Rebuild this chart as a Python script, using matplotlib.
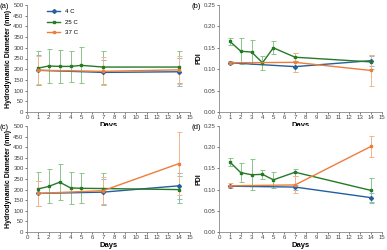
"""Hydrodynamic diameter and PDI over storage time, four-panel recreation."""

import matplotlib.pyplot as plt

days_full = [1, 2, 3, 4, 5, 7, 14]
days_short = [1, 7, 14]

# (a) diameter, formulation 1
a_4c = [195, 185, 188]
a_4c_err = [70, 60, 65]
a_25c = [205, 215, 213, 213, 218, 210, 210]
a_25c_err = [80, 80, 78, 73, 84, 77, 73]
a_37c = [195, 190, 197]
a_37c_err = [66, 65, 64]

# (b) PDI, formulation 1
b_4c = [0.115, 0.106, 0.120]
b_4c_err = [0.003, 0.013, 0.012]
b_25c = [0.165, 0.142, 0.140, 0.115, 0.150, 0.128, 0.117]
b_25c_err = [0.009, 0.030, 0.028, 0.017, 0.015, 0.010, 0.017]
b_37c = [0.115, 0.116, 0.097]
b_37c_err = [0.003, 0.022, 0.037]

# (c) diameter, formulation 2
c_4c = [182, 188, 218]
c_4c_err = [60, 60, 62]
c_25c = [203, 215, 235, 208, 206, 205, 200]
c_25c_err = [82, 80, 85, 76, 71, 75, 63]
c_37c = [182, 195, 323]
c_37c_err = [60, 65, 148]

# (d) PDI, formulation 2
d_4c = [0.108, 0.106, 0.081]
d_4c_err = [0.004, 0.006, 0.010]
d_25c = [0.165, 0.140, 0.135, 0.136, 0.123, 0.141, 0.098]
d_25c_err = [0.009, 0.022, 0.037, 0.010, 0.019, 0.008, 0.030]
d_37c = [0.109, 0.111, 0.202]
d_37c_err = [0.006, 0.020, 0.025]

labels = ["4 C", "25 C", "37 C"]
colors = ["#245F9E", "#267A26", "#EE7D3A"]
err_colors = ["#8FB4D8", "#8CC48C", "#F4B48A"]
markers = ["D", "s", "s"]

plt.rcParams["font.family"] = ["Liberation Sans", "DejaVu Sans"]

fig = plt.figure(figsize=(3.87, 2.5), dpi=100)
positions = [
    [0.070, 0.552, 0.421, 0.428],
    [0.566, 0.552, 0.421, 0.428],
    [0.070, 0.072, 0.421, 0.424],
    [0.566, 0.072, 0.421, 0.424],
]
panels = [
    ("(a)", (a_4c, a_4c_err), (a_25c, a_25c_err), (a_37c, a_37c_err), "diam"),
    ("(b)", (b_4c, b_4c_err), (b_25c, b_25c_err), (b_37c, b_37c_err), "pdi"),
    ("(c)", (c_4c, c_4c_err), (c_25c, c_25c_err), (c_37c, c_37c_err), "diam"),
    ("(d)", (d_4c, d_4c_err), (d_25c, d_25c_err), (d_37c, d_37c_err), "pdi"),
]

for pos, (tag, s4, s25, s37, kind) in zip(positions, panels):
    ax = fig.add_axes(pos)
    series = [(days_short, s4), (days_full, s25), (days_short, s37)]
    for i, (x, (y, e)) in enumerate(series):
        ax.errorbar(x, y, yerr=e, fmt="none", ecolor=err_colors[i],
                    elinewidth=0.7, capsize=1.8, capthick=0.7, zorder=1)
        ax.plot(x, y, color=colors[i], marker=markers[i], markersize=2,
                linewidth=1.0, label=labels[i], zorder=2)
    ax.set_xlim(0, 15)
    ax.set_xticks(range(0, 16))
    if kind == "diam":
        ax.set_ylim(0, 500)
        ax.set_yticks(range(0, 501, 50))
        ax.set_ylabel("Hydrodynamic Diameter (nm)", fontsize=5, fontweight="bold", labelpad=1)
    else:
        ax.set_ylim(0, 0.25)
        ax.set_yticks([0, 0.05, 0.10, 0.15, 0.20, 0.25])
        ax.set_yticklabels(["0.00", "0.05", "0.10", "0.15", "0.20", "0.25"])
        ax.set_ylabel("PDI", fontsize=5, fontweight="bold", labelpad=1)
    ax.set_xlabel("Days", fontsize=5.5, fontweight="bold", labelpad=1)
    ax.tick_params(labelsize=4.4, length=1.5, width=0.5, pad=1, colors="#444444")
    for side in ["top", "right"]:
        ax.spines[side].set_visible(False)
    for side in ["left", "bottom"]:
        ax.spines[side].set_linewidth(0.6)
        ax.spines[side].set_color("#888888")
    ax.text(-0.17, 0.99, tag, transform=ax.transAxes, fontsize=5.5, va="center", ha="left")
    if tag == "(a)":
        ax.legend(loc="upper left", bbox_to_anchor=(0.1, 1.0), fontsize=4.4,
                  frameon=False, handlelength=2.2, borderaxespad=0.2, labelspacing=0.9)

fig.savefig("out.png", dpi=100)
